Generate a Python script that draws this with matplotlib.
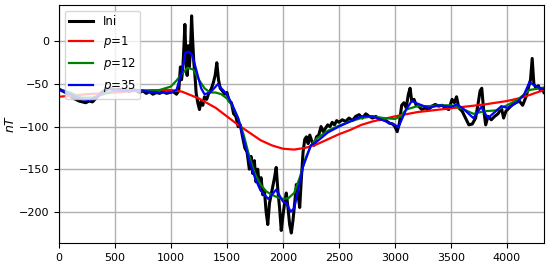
import numpy as np
import matplotlib
matplotlib.use('Agg')
import matplotlib.pyplot as plt

# datos
x_ini = [0, 30, 60, 90, 120, 150, 180, 210, 240, 270, 300, 330, 360, 390, 420, 450, 480, 510, 540, 570,
         600, 630, 660, 690, 720, 750, 780, 810, 840, 870, 900, 930, 960, 990, 1020, 1050, 1070, 1085, 1095, 1105,
         1115, 1125, 1135, 1145, 1155, 1165, 1175, 1185, 1195, 1205, 1215, 1225, 1240, 1255, 1270, 1285, 1300, 1320, 1340, 1360,
         1380, 1395, 1410, 1425, 1440, 1460, 1480, 1500, 1520, 1540, 1560, 1580, 1600, 1620, 1640, 1660, 1680, 1700, 1715, 1730,
         1745, 1760, 1775, 1790, 1805, 1820, 1835, 1850, 1865, 1880, 1895, 1910, 1925, 1940, 1955, 1970, 1985, 2000, 2015, 2030,
         2045, 2060, 2075, 2090, 2105, 2120, 2135, 2150, 2165, 2180, 2195, 2210, 2225, 2240, 2260, 2280, 2300, 2320, 2340, 2360,
         2380, 2400, 2420, 2440, 2460, 2480, 2500, 2530, 2560, 2590, 2620, 2650, 2680, 2710, 2740, 2770, 2800, 2830, 2860, 2890,
         2920, 2950, 2980, 3000, 3020, 3040, 3060, 3080, 3100, 3120, 3135, 3150, 3170, 3190, 3210, 3240, 3270, 3300, 3330, 3360,
         3390, 3420, 3450, 3480, 3510, 3530, 3550, 3570, 3600, 3630, 3660, 3690, 3720, 3740, 3760, 3775, 3790, 3810, 3830, 3860,
         3890, 3920, 3950, 3970, 3990, 4020, 4050, 4080, 4110, 4140, 4170, 4190, 4210, 4225, 4240, 4260, 4280, 4300, 4320, 4330]
y_ini = [-56, -58, -60, -63, -66, -68, -70, -71, -72, -70, -71, -67, -63, -59, -57, -55, -56, -57, -56, -58,
         -57, -59, -56, -58, -60, -58, -61, -59, -62, -60, -61, -59, -61, -60, -59, -62, -58, -30, -45, -35,
         -10, 20, -20, -40, -5, -30, -10, 30, 0, -25, -40, -60, -72, -80, -70, -75, -65, -68, -60, -56,
         -48, -40, -25, -45, -55, -58, -62, -60, -70, -72, -85, -88, -100, -98, -112, -125, -130, -150, -135, -155,
         -140, -165, -150, -170, -160, -180, -175, -200, -215, -190, -180, -170, -160, -148, -175, -195, -222, -205, -190, -178,
         -195, -215, -225, -210, -190, -168, -180, -195, -160, -130, -115, -112, -120, -110, -118, -122, -112, -110, -100, -106,
         -102, -98, -100, -95, -98, -93, -95, -92, -94, -90, -93, -88, -86, -90, -85, -88, -90, -88, -92, -91,
         -93, -96, -97, -100, -106, -96, -75, -72, -78, -62, -55, -70, -68, -75, -76, -80, -78, -80, -76, -74,
         -76, -75, -78, -80, -68, -72, -65, -78, -82, -90, -98, -97, -90, -75, -58, -55, -78, -98, -88, -92,
         -88, -85, -78, -90, -82, -78, -74, -72, -70, -75, -65, -55, -45, -20, -50, -55, -52, -58, -56, -60]

x_p1 = [0, 250, 500, 750, 1000, 1100, 1250, 1400, 1500, 1600, 1700, 1800, 1900, 2000, 2100, 2200,
        2300, 2400, 2500, 2600, 2700, 2800, 2900, 3000, 3200, 3400, 3600, 3800, 4000, 4100, 4200, 4330]
y_p1 = [-65, -62, -60, -57.5, -57, -59, -67, -78, -88, -98, -107, -116, -122, -126, -127, -125,
        -121, -115, -109, -104, -98, -94, -91, -88, -83, -80, -77, -74, -70, -67, -63, -57]

x_p12 = [0, 100, 200, 300, 400, 500, 600, 800, 900, 1000, 1050, 1100, 1150, 1200, 1250, 1300, 1350, 1400,
         1450, 1500, 1550, 1600, 1650, 1700, 1750, 1800, 1850, 1900, 1950, 2000, 2050, 2100, 2150, 2200,
         2250, 2300, 2400, 2500, 2600, 2700, 2800, 2900, 3000, 3050, 3100, 3200, 3300, 3400, 3500, 3600,
         3700, 3800, 3900, 4000, 4100, 4200, 4300, 4330]
y_p12 = [-56, -60, -66, -66, -62, -58, -57, -58, -57, -53, -46, -38, -31, -33, -45, -55, -60, -60,
         -62, -67, -76, -90, -110, -135, -155, -168, -176, -180, -183, -185, -184, -178, -160, -138,
         -122, -114, -105, -99, -94, -90, -88, -90, -91, -88, -80, -76, -76, -75, -75, -79,
         -85, -82, -81, -75, -68, -57, -55, -54]

x_p35 = [0, 100, 200, 280, 350, 400, 450, 500, 600, 700, 800, 900, 1000, 1050, 1100, 1130, 1160, 1190,
         1230, 1270, 1300, 1350, 1400, 1420, 1450, 1500, 1550, 1600, 1650, 1700, 1750, 1800, 1870, 1940,
         2000, 2030, 2070, 2100, 2180, 2250, 2300, 2400, 2500, 2600, 2700, 2800, 2900, 3000, 3030, 3100,
         3150, 3200, 3300, 3400, 3500, 3550, 3600, 3700, 3770, 3830, 3900, 3950, 4000, 4050, 4100, 4150,
         4200, 4250, 4300, 4330]
y_p35 = [-56, -62, -68, -69, -64, -59, -56, -57, -58, -57, -59, -60, -60, -57, -35, -13, -12, -16,
         -35, -55, -62, -60, -53, -50, -55, -62, -75, -90, -115, -140, -160, -175, -185, -174,
         -188, -190, -200, -196, -147, -122, -118, -107, -100, -94, -88, -88, -93, -98, -101, -80,
         -70, -73, -78, -75, -77, -74, -78, -90, -77, -90, -82, -76, -78, -75, -70, -63,
         -48, -52, -55, -56]

plt.rcParams['font.size'] = 8

fig = plt.figure(figsize=(5.5, 2.67), dpi=100)
ax = fig.add_axes([0.107, 0.089, 0.882, 0.893])

ax.plot(x_ini, y_ini, 'k', lw=2.2, label='Ini')
ax.plot(x_p1, y_p1, 'r', lw=1.6, label='$p$=1')
ax.plot(x_p12, y_p12, 'g', lw=1.6, label='$p$=12')
ax.plot(x_p35, y_p35, 'b', lw=1.6, label='$p$=35')

ax.set_xlim(0, 4330)
ax.set_ylim(-237, 43)
ax.set_xticks([0, 500, 1000, 1500, 2000, 2500, 3000, 3500, 4000])
ax.set_yticks([0, -50, -100, -150, -200])
ax.set_ylabel('$nT$', fontsize=9, labelpad=1)
ax.grid(True, lw=1)
ax.legend(loc='upper left', fontsize=8.5)

fig.savefig('out.png', dpi=100)
